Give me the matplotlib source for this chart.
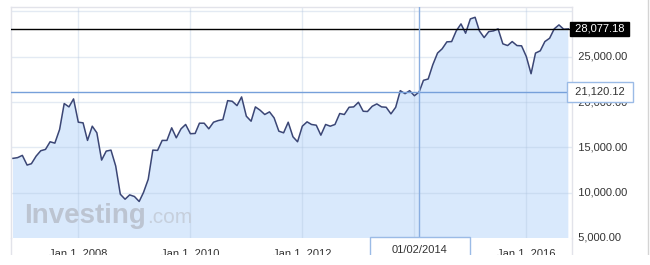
import matplotlib
matplotlib.use("Agg")
import matplotlib.pyplot as plt
from matplotlib.patches import Rectangle
from matplotlib.lines import Line2D
import pandas as pd

plt.rcParams['font.family'] = ['Liberation Sans', 'DejaVu Sans']

# ---- data (monthly closes, Nov 2006 .. Oct 2016) ----
start_month = "2006-11-01"
values = [
    13790, 13870, 14120, 13050, 13200, 14040, 14630, 14780, 15620, 15470,
    16980, 19840, 19470, 20350, 17780, 17710, 15770, 17340, 16610, 13600,
    14590, 14700, 12940, 9830, 9280, 9760, 9580, 9030, 10020, 11480,
    14700, 14670, 15770, 15770, 17160, 16060, 17050, 17530, 16510, 16540,
    17670, 17670, 17050, 17780, 17960, 18070, 20160, 20090, 19610, 20570,
    18440, 17890, 19470, 19100, 18630, 18920, 18260, 16790, 16610, 17780,
    16170, 15620, 17340, 17820, 17530, 17450, 16350, 17530, 17340, 17530,
    18740, 18630, 19430, 19470, 19980, 18990, 18960, 19540, 19800, 19470,
    19430, 18700, 19430, 21260, 20930, 21260, 20700, 21120.12, 22400, 22550,
    24120, 25410, 25880, 26650, 26680, 27860, 28630, 27600, 29180, 29360,
    27860, 27120, 27780, 27860, 28080, 26430, 26240, 26680, 26240, 26210,
    25030, 23130, 25410, 25660, 26680, 27050, 28080, 28520, 28040, 28077.18,
]
dates = pd.date_range(start_month, periods=len(values), freq="MS")

ytick_values = [5000, 10000, 15000, 20000, 25000]
ytick_labels = ["5,000.00", "10,000.00", "15,000.00", "20,000.00", "25,000.00"]
grid_dates = pd.to_datetime(["2008-01-01", "2010-01-01", "2012-01-01", "2014-01-01", "2016-01-01"])
# the 2014 label is hidden behind the cursor date tag in the reference
xlabel_dates = pd.to_datetime(["2008-01-01", "2010-01-01", "2012-01-01", "2016-01-01"])
xtick_labels = ["Jan 1, 2008", "Jan 1, 2010", "Jan 1, 2012", "Jan 1, 2016"]

last_value = 28077.18
last_label = "28,077.18"
cursor_date = pd.Timestamp("2014-02-01")
cursor_value = 21120.12
cursor_value_label = "21,120.12"
cursor_date_label = "01/02/2014"

# ---- figure ----
W, H = 650, 265
fig = plt.figure(figsize=(W / 100, H / 100), dpi=100)

def fx(px):
    return px / W

def fy(py):
    return 1 - py / H

ax_l, ax_r, ax_t, ax_b = 11, 572, 7, 238
ax = fig.add_axes([fx(ax_l), fy(ax_b), fx(ax_r - ax_l), (ax_b - ax_t) / H])

grid_c = '#b0c4de'
frame_c = '#e2e3ea'

ax.fill_between(dates, values, 0, color='#d9e9fc', zorder=1, linewidth=0)
for yv in [10000, 15000, 20000, 25000, 30000]:
    ax.axhline(yv, color=grid_c, alpha=0.35, lw=1, zorder=2)
for xd in grid_dates:
    ax.axvline(xd, color=grid_c, alpha=0.35, lw=1, zorder=2)
ax.plot(dates, values, color='#3b4675', lw=1.1, zorder=4)

ax.axhline(last_value, color='black', lw=1, zorder=5)
ax.axhline(cursor_value, color='#76a0da', lw=1, zorder=5)
ax.axvline(cursor_date, color='#8aaee0', lw=1, zorder=5)

ax.set_ylim(5000, 30495)
ax.set_xlim(pd.Timestamp("2006-10-19"), pd.Timestamp("2016-10-25"))
ax.set_xticks([])
ax.set_yticks([])
ax.spines['bottom'].set_visible(False)
for s in ['top', 'left', 'right']:
    ax.spines[s].set_color(frame_c)
    ax.spines[s].set_linewidth(1)

# y tick labels on right
trans = ax.get_yaxis_transform()
for v, lab in zip(ytick_values, ytick_labels):
    ax.text(1.0, v, "  " + lab, transform=trans, ha='left', va='center',
            fontsize=8, color='#333333', clip_on=False, zorder=3)

# x tick labels (cut off at the bottom like the reference)
xtrans = ax.get_xaxis_transform()
for d, lab in zip(xlabel_dates, xtick_labels):
    ax.text(d, -(15 / (ax_b - ax_t)), lab, transform=xtrans, ha='center', va='center',
            fontsize=8, color='#333333', clip_on=False, zorder=3)

# last value tag
ax.text(1.0, last_value, " " + last_label + " ", transform=trans, ha='left', va='center',
        fontsize=8, color='white', clip_on=False, zorder=10,
        bbox=dict(boxstyle='square,pad=0.15', fc='black', ec='black'))

# cursor value tag
ax.text(1.0, cursor_value, " " + cursor_value_label + " ", transform=trans, ha='left', va='center',
        fontsize=8, color='#333333', clip_on=False, zorder=10,
        bbox=dict(boxstyle='square,pad=0.45', fc='white', ec='#9bbbe6', lw=1))

# cursor date tag
fig.patches.append(Rectangle((fx(370), fy(262)), fx(100), (262 - 237) / H,
                             transform=fig.transFigure, fc='white', ec='#9bbbe6', lw=1, zorder=6))
fig.text(fx(420), fy(250), cursor_date_label, ha='center', va='center', fontsize=8,
         color='#333333', zorder=7)

# frame extensions
fig.lines.append(Line2D([fx(11), fx(11)], [fy(238), fy(262)], transform=fig.transFigure, color=frame_c, lw=1))
fig.lines.append(Line2D([fx(572), fx(572)], [fy(238), fy(262)], transform=fig.transFigure, color=frame_c, lw=1))
fig.lines.append(Line2D([fx(648), fx(648)], [fy(0), fy(262)], transform=fig.transFigure, color='#d4d4d4', lw=1))

# watermark
fig.text(fx(24), fy(223), "Investing", fontsize=20, fontweight='bold', color='#bcc4d1',
         ha='left', va='baseline', zorder=3)
fig.text(fx(147), fy(223), ".com", fontsize=15, color='#c6cfdc',
         ha='left', va='baseline', zorder=3)

# blank strip at bottom (reference is cut off)
fig.patches.append(Rectangle((0, 0), 1, 10 / H, transform=fig.transFigure,
                             fc='white', ec='none', zorder=20))

fig.savefig("out.png", dpi=100)
